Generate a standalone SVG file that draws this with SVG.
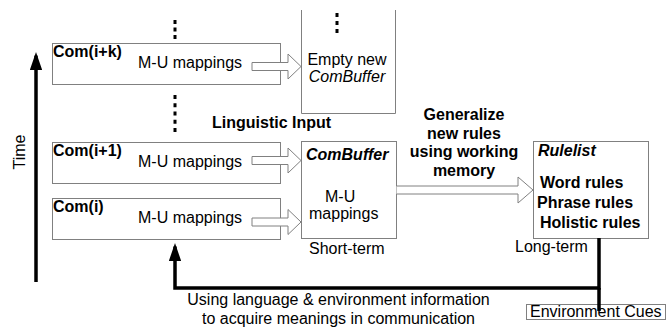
<svg xmlns="http://www.w3.org/2000/svg" width="670" height="331" viewBox="0 0 670 331">
  <style>
    text { font-family: "Liberation Sans", Arial, sans-serif; font-size: 16px; fill: #000; }
    .b { font-weight: bold; }
    .i { font-style: italic; }
    .box { fill: #fff; stroke: #808080; stroke-width: 1; }
    .block { fill: #fff; stroke: #808080; stroke-width: 1; }
    .thick { fill: none; stroke: #000; stroke-width: 3.5; }
    .dots { stroke: #000; stroke-width: 3; fill: none; }
  </style>
  <defs>
    <!-- hollow block arrow pointing right, anchored at shaft's left end -->
    <path id="blockArrow" d="M0,-4 H36 V-12.5 L49,0 L36,12.5 V4 H0 Z"/>
    <marker id="head" viewBox="0 0 10 10" refX="8" refY="5" markerWidth="5.1" markerHeight="3.5" markerUnits="strokeWidth" orient="auto" preserveAspectRatio="none">
      <path d="M0,0 L10,5 L0,10 Z" fill="#000"/>
    </marker>
  </defs>
  <rect width="670" height="331" fill="#fff"/>

  <!-- Time axis -->
  <g id="time">
    <line class="thick" x1="36" y1="282" x2="36" y2="55.6" marker-end="url(#head)"/>
    <text transform="translate(25,152) rotate(-90)" text-anchor="middle">Time</text>
  </g>

  <!-- continuation dots -->
  <g id="dots">
    <line class="dots" x1="175" y1="20" x2="175" y2="39" stroke-dasharray="4 3.5"/>
    <line class="dots" x1="175" y1="95" x2="175" y2="132" stroke-dasharray="4 4.25"/>
  </g>

  <!-- communication records -->
  <g id="com-ik">
    <rect class="box" x="52.5" y="43.5" width="228" height="41"/>
    <text class="b" x="53" y="57">Com(i+k)</text>
    <text x="138" y="68">M-U mappings</text>
  </g>
  <g id="com-i1">
    <rect class="box" x="52.5" y="142.5" width="228" height="41"/>
    <text class="b" x="53" y="156">Com(i+1)</text>
    <text x="138" y="167">M-U mappings</text>
  </g>
  <g id="com-i">
    <rect class="box" x="52.5" y="198.5" width="228" height="41"/>
    <text class="b" x="53" y="212">Com(i)</text>
    <text x="138" y="223">M-U mappings</text>
  </g>

  <!-- empty new buffer (open at the top) -->
  <g id="empty-buffer">
    <path class="box" d="M301.5,10 V113.5 H395.5 V10"/>
    <line class="dots" x1="337" y1="13" x2="337" y2="33" stroke-dasharray="4 4"/>
    <text x="347" y="65" text-anchor="middle">Empty new</text>
    <text class="i" x="347" y="82" text-anchor="middle">ComBuffer</text>
  </g>

  <text id="linguistic-input" class="b" x="212" y="128">Linguistic Input</text>

  <!-- short-term buffer -->
  <g id="combuffer">
    <rect class="box" x="301.5" y="141.5" width="95" height="97"/>
    <text class="b i" x="306" y="160">ComBuffer</text>
    <text x="325" y="202">M-U</text>
    <text x="309" y="219">mappings</text>
    <text x="309" y="254">Short-term</text>
  </g>

  <g id="generalize">
    <text class="b" x="464" y="120" text-anchor="middle">Generalize</text>
    <text class="b" x="464" y="138.5" text-anchor="middle">new rules</text>
    <text class="b" x="464" y="157" text-anchor="middle">using working</text>
    <text class="b" x="464" y="175.5" text-anchor="middle">memory</text>
  </g>

  <!-- long-term rule list -->
  <g id="rulelist">
    <rect class="box" x="533.5" y="141.5" width="115" height="97"/>
    <text class="b i" x="538" y="156">Rulelist</text>
    <text class="b" x="540" y="188">Word rules</text>
    <text class="b" x="537" y="208">Phrase rules</text>
    <text class="b" x="540" y="228">Holistic rules</text>
    <text x="515" y="252">Long-term</text>
  </g>

  <g id="feedback-label">
    <text x="338.5" y="305" text-anchor="middle">Using language &amp; environment information</text>
    <text x="338.5" y="324" text-anchor="middle">to acquire meanings in communication</text>
  </g>

  <!-- connectors -->
  <g id="connectors">
    <use href="#blockArrow" class="block" transform="translate(252,66.5)"/>
    <use href="#blockArrow" class="block" transform="translate(252,160.5)"/>
    <use href="#blockArrow" class="block" transform="translate(252,222)"/>
    <path class="block" d="M396.5,186 H518 V177 L533,190 L518,203 V194 H396.5"/>
    <polyline class="thick" points="599,238 599,288 175,288 175,246.6" marker-end="url(#head)"/>
    <line class="thick" x1="599" y1="288" x2="599" y2="304"/>
  </g>

  <g id="env-cues">
    <rect class="box" x="526.5" y="304.5" width="139" height="15"/>
    <text x="530" y="316.5">Environment Cues</text>
    <line stroke="#000" stroke-width="3.5" x1="599" y1="304" x2="599" y2="311"/>
  </g>
</svg>
